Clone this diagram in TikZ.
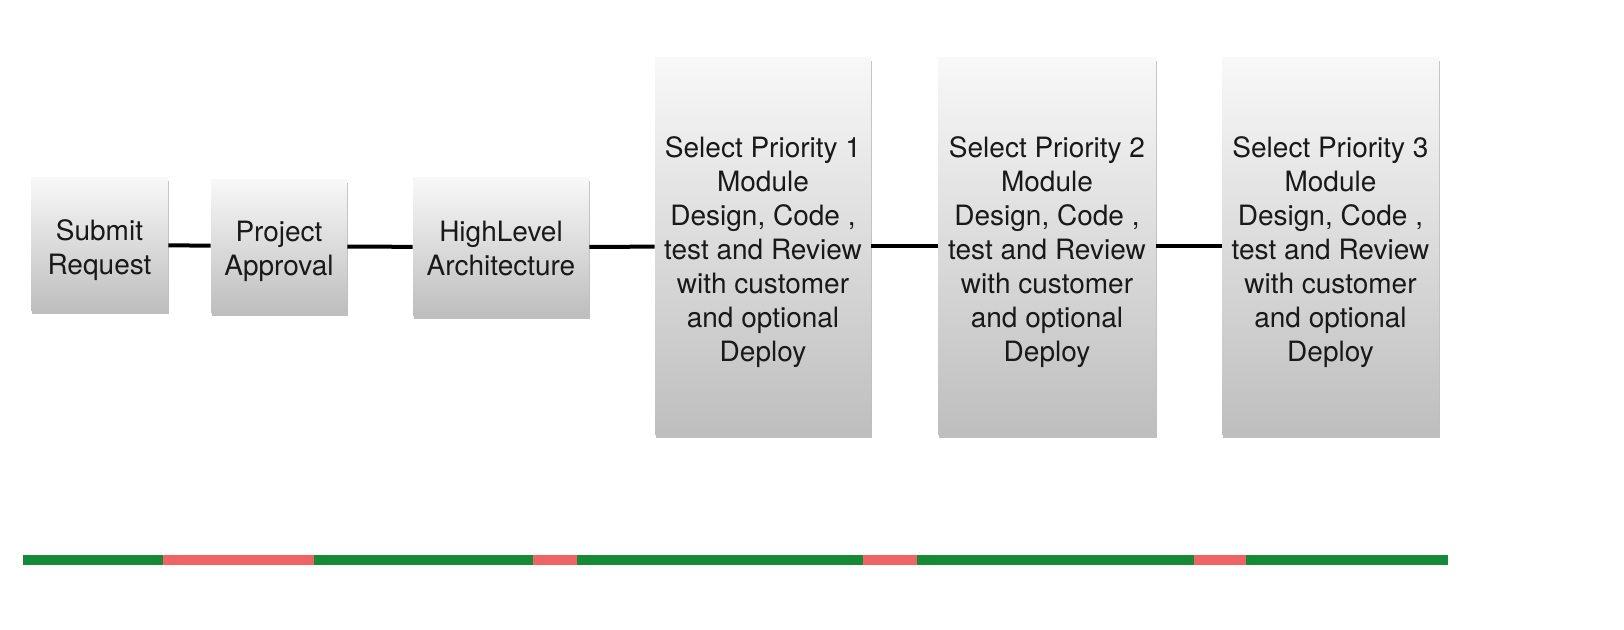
\documentclass[tikz,border=0pt]{standalone}
\usepackage{fontspec}
\setmainfont{TeX Gyre Heros}
\usetikzlibrary{shadows}
\definecolor{bargreen}{HTML}{178A38}
\definecolor{barred}{HTML}{EE6464}
\definecolor{boxtop}{HTML}{F8F8F8}
\definecolor{boxbottom}{HTML}{BEBEBE}
\begin{document}
\begin{tikzpicture}[x=0.5pt, y=-0.5pt,
  stepbox/.style={rectangle, top color=boxtop, bottom color=boxbottom, inner sep=2pt,
    drop shadow={shadow xshift=0.4pt, shadow yshift=-1.4pt, opacity=0.25, fill=black}},
  steptext/.style={align=center, text=black!90, inner sep=0pt, yshift=-2.6pt,
    font=\fontsize{14}{17}\selectfont},
  link/.style={line width=2pt, black},
  bar/.style={line width=5pt, line cap=butt}]

\useasboundingbox (0,0) rectangle (1624,630);

\node[stepbox, minimum width=68.5pt, minimum height=66.5pt,
  label={[steptext]center:{Submit\\Request}}] at (99.5,244.5) (n0) {};
\node[stepbox, minimum width=68pt, minimum height=66.5pt,
  label={[steptext]center:{Project\\Approval}}] at (279,246.5) (n1) {};
\node[stepbox, minimum width=88pt, minimum height=69pt,
  label={[steptext, yshift=2pt]center:{HighLevel\\Architecture}}] at (501,247) (n2) {};

\node[stepbox, minimum width=108pt, minimum height=188.5pt,
  label={[steptext]center:{Select Priority 1\\Module\\Design, Code ,\\test and Review\\with customer\\and optional\\Deploy}}] at (763,246.5) (n3) {};
\node[stepbox, minimum width=109pt, minimum height=188.5pt,
  label={[steptext]center:{Select Priority 2\\Module\\Design, Code ,\\test and Review\\with customer\\and optional\\Deploy}}] at (1047,246.5) (n4) {};
\node[stepbox, minimum width=108.5pt, minimum height=188.5pt,
  label={[steptext]center:{Select Priority 3\\Module\\Design, Code ,\\test and Review\\with customer\\and optional\\Deploy}}] at (1330.5,246.5) (n5) {};

\path[link] (n0) edge (n1);
\path[link] (n1) edge (n2);
\path[link] (n2) edge (n3);
\path[link] (n3) edge (n4);
\path[link] (n4) edge (n5);

\draw[bar, bargreen] (22.8,560) -- (162.6,560);
\draw[bar, barred] (162.6,560) -- (313.8,560);
\draw[bar, bargreen] (313.8,560) -- (533.4,560);
\draw[bar, barred] (533.4,560) -- (576.9,560);
\draw[bar, bargreen] (576.9,560) -- (862.7,560);
\draw[bar, barred] (862.7,560) -- (916.6,560);
\draw[bar, bargreen] (916.6,560) -- (1194.1,560);
\draw[bar, barred] (1194.1,560) -- (1245.9,560);
\draw[bar, bargreen] (1245.9,560) -- (1447.9,560);

\end{tikzpicture}
\end{document}
